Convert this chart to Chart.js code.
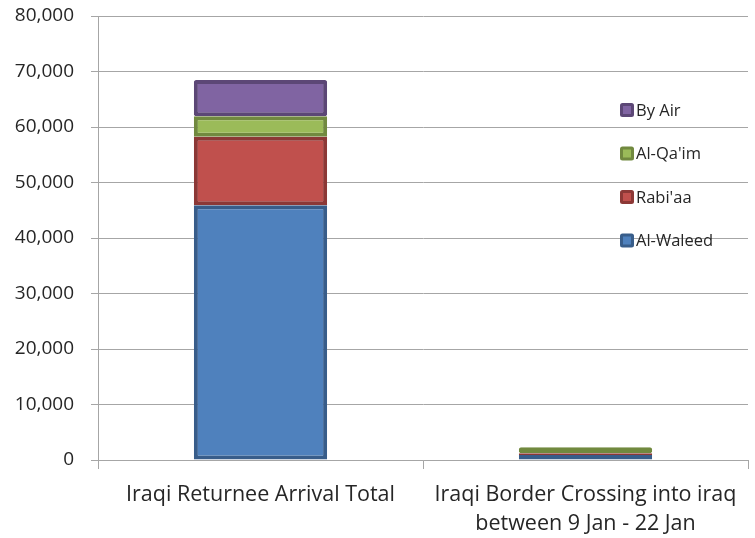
<!DOCTYPE html>
<html lang="en">
<head>
    <meta charset="UTF-8">
    <title>Iraqi Returnee Arrivals</title>
    <script src="https://cdn.jsdelivr.net/npm/chart.js"></script>
    <style>
        html, body {
            margin: 0;
            padding: 0;
            background: #fff;
        }
        .chart-box {
            position: relative;
            width: 755px;
            height: 538px;
        }
    </style>
</head>
<body>
    <div class="chart-box">
        <canvas id="arrivalChart"></canvas>
    </div>

    <script>
        const categories = [
            ['Iraqi Returnee Arrival Total'],
            ['Iraqi Border Crossing into iraq', 'between 9 Jan - 22 Jan']
        ];
        const alWaleed = [45900, 900];
        const rabiaa = [12350, 300];
        const alQaim = [3700, 1100];
        const byAir = [6500, 0];
        const yTicks = [0, 10000, 20000, 30000, 40000, 50000, 60000, 70000, 80000];

        const fontFace = "'Open Sans', 'Liberation Sans', sans-serif";
        const textColor = '#262626';
        const gridColor = '#a6a6a6';

        // legend drawn inside the plot, top-down in reverse order like the original
        const insideLegend = {
            id: 'insideLegend',
            afterDraw(chart) {
                const ctx = chart.ctx;
                const sets = chart.data.datasets;
                const x = 620;
                const yStart = 110;
                const step = 43.5;
                ctx.save();
                ctx.font = '16.5px ' + fontFace;
                ctx.textBaseline = 'middle';
                ctx.textAlign = 'left';
                for (let i = sets.length - 1, row = 0; i >= 0; i--, row++) {
                    const ds = sets[i];
                    const y = yStart + row * step;
                    ctx.fillStyle = ds.borderColor;
                    ctx.beginPath();
                    ctx.roundRect(x, y - 7, 14, 14, 2.5);
                    ctx.fill();
                    ctx.fillStyle = ds.backgroundColor;
                    ctx.fillRect(x + 3, y - 4, 8, 8);
                    ctx.fillStyle = textColor;
                    ctx.fillText(ds.label, x + 16, y + 1);
                }
                ctx.restore();
            }
        };

        function segment(label, data, fill, edge) {
            return {
                label: label,
                data: data,
                backgroundColor: fill,
                borderColor: edge,
                borderWidth: 4,
                borderRadius: 2,
                borderSkipped: false,
                inflateAmount: 0,
                barPercentage: 0.41,
                categoryPercentage: 1.0
            };
        }

        const ctx = document.getElementById('arrivalChart').getContext('2d');
        const arrivalChart = new Chart(ctx, {
            type: 'bar',
            data: {
                labels: categories,
                datasets: [
                    segment('Al-Waleed', alWaleed, '#4f81bd', '#385d8a'),
                    segment("Rabi'aa", rabiaa, '#c0504d', '#8c3836'),
                    segment("Al-Qa'im", alQaim, '#9bbb59', '#71893f'),
                    segment('By Air', byAir, '#8064a2', '#5c4776')
                ]
            },
            plugins: [insideLegend],
            options: {
                responsive: true,
                maintainAspectRatio: false,
                animation: false,
                layout: {
                    padding: { top: 16, right: 7, left: 0, bottom: 0 }
                },
                plugins: {
                    legend: { display: false },
                    tooltip: { enabled: false }
                },
                scales: {
                    x: {
                        stacked: true,
                        afterFit(scale) { scale.height = 78; },
                        border: { color: gridColor, width: 1 },
                        grid: {
                            offset: true,
                            drawOnChartArea: false,
                            color: gridColor,
                            tickLength: 9
                        },
                        ticks: {
                            color: textColor,
                            font: { family: fontFace, size: 21.5, lineHeight: 1.35 },
                            padding: 11,
                            maxRotation: 0
                        }
                    },
                    y: {
                        stacked: true,
                        min: 0,
                        max: 80000,
                        afterFit(scale) {
                            scale.width = 98;
                            // tick padding otherwise pushes the plot top down
                            scale.paddingTop = 0;
                            scale.paddingBottom = 0;
                        },
                        afterBuildTicks(scale) {
                            scale.ticks = yTicks.map(v => ({ value: v }));
                        },
                        border: { color: gridColor, width: 1 },
                        grid: {
                            color: gridColor,
                            tickLength: 7
                        },
                        ticks: {
                            color: textColor,
                            font: { family: fontFace, size: 19 },
                            padding: 17,
                            callback: v => v.toLocaleString('en-US')
                        }
                    }
                }
            }
        });
    </script>
</body>
</html>
